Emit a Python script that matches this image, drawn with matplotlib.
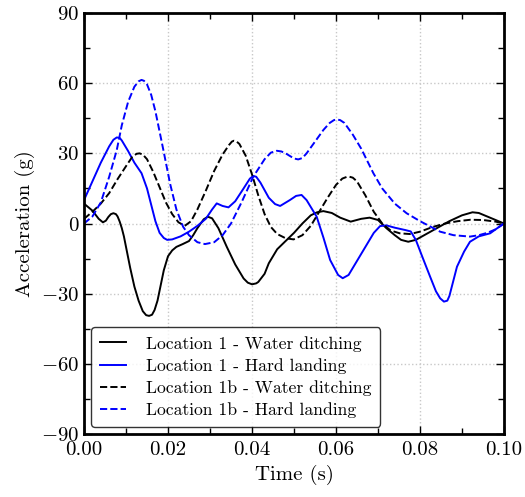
import numpy as np
import matplotlib
matplotlib.use("Agg")
import matplotlib.pyplot as plt
from matplotlib.ticker import MultipleLocator

plt.rcParams['font.family'] = 'serif'
plt.rcParams['font.serif'] = ['cmr10']
plt.rcParams['mathtext.fontset'] = 'cm'
plt.rcParams['axes.formatter.use_mathtext'] = True

# Location 1 - Water ditching
t_l1_water = [0.000, 0.002, 0.0035, 0.0045, 0.0052, 0.0058, 0.0064, 0.007, 0.0076, 0.008,
              0.0085, 0.009, 0.0095, 0.010, 0.011, 0.012, 0.013, 0.014, 0.0148, 0.0155,
              0.0162, 0.0168, 0.0175, 0.019, 0.020, 0.021, 0.022, 0.0235, 0.025, 0.026,
              0.027, 0.0285, 0.0295, 0.0305, 0.032, 0.034, 0.036, 0.038, 0.039, 0.040,
              0.041, 0.0415, 0.043, 0.044, 0.046, 0.048, 0.050, 0.052, 0.054, 0.0555,
              0.057, 0.059, 0.061, 0.0635, 0.066, 0.068, 0.070, 0.072, 0.074, 0.0755,
              0.0772, 0.079, 0.081, 0.084, 0.087, 0.090, 0.0925, 0.094, 0.096, 0.098, 0.100]
g_l1_water = [8.5, 5.5, 2, 0.5, 1.2, 2.8, 4.0, 4.4, 4.0, 3,
              0.8, -2, -5.5, -10, -19, -27, -33, -37.5, -39.2, -39.5,
              -39, -37, -33, -20, -14, -11.5, -10, -8.8, -7.5, -5,
              -2, 1.8, 2.9, 2.2, -2, -10, -17.5, -23.5, -25.3, -26,
              -25.6, -25, -21.5, -17, -11, -7.5, -4, 0, 3.5, 4.8,
              5.3, 4.5, 2.5, 0.8, 2, 2.5, 1.5, -2, -5, -7,
              -7.8, -7, -5, -2, 1, 3.5, 4.8, 4.5, 3, 1.5, 0]

# Location 1 - Hard landing
t_l1_hard = [0.000, 0.002, 0.004, 0.006, 0.007, 0.0078, 0.0085, 0.009, 0.0105, 0.012,
             0.0137, 0.015, 0.016, 0.017, 0.018, 0.019, 0.0198, 0.021, 0.023, 0.025,
             0.027, 0.029, 0.0305, 0.0316, 0.033, 0.0344, 0.036, 0.038, 0.0395, 0.0403,
             0.041, 0.042, 0.044, 0.0455, 0.0467, 0.049, 0.0505, 0.0518, 0.053, 0.0554,
             0.057, 0.0586, 0.0605, 0.0616, 0.063, 0.065, 0.067, 0.069, 0.0705, 0.072,
             0.074, 0.0765, 0.0778, 0.079, 0.0805, 0.0824, 0.0838, 0.0848, 0.0857, 0.0865,
             0.087, 0.0888, 0.0905, 0.0919, 0.094, 0.0967, 0.098, 0.100]
g_l1_hard = [10, 18, 26, 33, 35.8, 36.8, 36.6, 35.5, 31, 26,
             21.5, 15, 8, 1, -4, -6.2, -7, -6.8, -5.5, -3.5,
             -1, 2, 6, 8.6, 7.5, 6.9, 9.5, 15, 19.2, 20.3,
             20.0, 17.5, 11, 8.3, 7.5, 10, 11.8, 12.2, 10, 2.9,
             -6, -15.6, -22, -23.4, -22, -16, -10, -4, -1.1, -0.8,
             -1.8, -2.8, -3.4, -7, -14, -22.7, -29, -32, -33.4, -33,
             -31, -18.5, -12, -7.8, -5.5, -4.2, -2.5, 0]

# Location 1b - Water ditching
t_l1b_water = [0.000, 0.002, 0.004, 0.006, 0.008, 0.010, 0.0115, 0.0125, 0.0132, 0.014,
               0.015, 0.0165, 0.018, 0.0195, 0.021, 0.0225, 0.024, 0.0255, 0.027, 0.029,
               0.031, 0.033, 0.0345, 0.0352, 0.0357, 0.0363, 0.037, 0.0385, 0.040, 0.0415,
               0.043, 0.0445, 0.046, 0.048, 0.0499, 0.052, 0.054, 0.056, 0.058, 0.060,
               0.0615, 0.0625, 0.0632, 0.064, 0.065, 0.067, 0.069, 0.071, 0.073, 0.0752,
               0.0776, 0.080, 0.083, 0.086, 0.089, 0.092, 0.095, 0.098, 0.100]
g_l1b_water = [2, 5, 8.5, 13, 19, 24.5, 28.5, 29.8, 30, 29.5,
               27.5, 22, 15.5, 9, 4, 0.5, -1, 1, 6, 14,
               22.5, 29.5, 33.5, 35, 35.4, 35.1, 34, 29, 21, 12,
               4, -1.5, -4.5, -6.3, -6.8, -5, -1, 5, 11, 16.5,
               19.2, 19.9, 20, 19.6, 18, 12, 5, 0, -3, -4.2,
               -4.5, -3.5, -1.5, 0, 1, 1.6, 1.5, 0.8, 0]

# Location 1b - Hard landing
t_l1b_hard = [0.000, 0.002, 0.004, 0.006, 0.0078, 0.009, 0.0105, 0.012, 0.013, 0.0137,
              0.0143, 0.015, 0.016, 0.017, 0.0189, 0.0205, 0.022, 0.0236, 0.025, 0.027,
              0.0288, 0.031, 0.033, 0.035, 0.0375, 0.0403, 0.043, 0.0445, 0.0459, 0.047,
              0.048, 0.050, 0.051, 0.052, 0.053, 0.055, 0.057, 0.0585, 0.0595, 0.0602,
              0.061, 0.062, 0.064, 0.066, 0.0689, 0.071, 0.074, 0.0768, 0.080, 0.0848,
              0.088, 0.0919, 0.094, 0.096, 0.098, 0.100]
g_l1b_hard = [0, 3, 9, 20, 31.4, 42, 52, 58.5, 60.8, 61.4,
              61.0, 59.5, 55, 48, 31.4, 17, 6, -1.4, -5, -8,
              -8.8, -8, -5, 0, 9, 20, 27.5, 30.3, 31.1, 30.8,
              30, 27.8, 27.4, 28, 30, 35, 40, 43, 44.2, 44.5,
              44.2, 43, 38, 32, 21.5, 15, 8.5, 4.4, 1, -3.5,
              -5, -5.6, -5, -4, -2.5, 0]

fig = plt.figure(figsize=(5.25, 4.97), dpi=100)
ax = fig.add_axes([0.16, 0.1268, 0.80, 0.847])

ax.plot(t_l1_water, g_l1_water, color='black', lw=1.4, label='Location 1 - Water ditching')
ax.plot(t_l1_hard, g_l1_hard, color='blue', lw=1.4, label='Location 1 - Hard landing')
ax.plot(t_l1b_water, g_l1b_water, color='black', lw=1.4, ls='--', label='Location 1b - Water ditching')
ax.plot(t_l1b_hard, g_l1b_hard, color='blue', lw=1.4, ls='--', label='Location 1b - Hard landing')

ax.set_xlim(0, 0.1)
ax.set_ylim(-90, 90)
ax.xaxis.set_major_locator(MultipleLocator(0.02))
ax.xaxis.set_minor_locator(MultipleLocator(0.01))
ax.yaxis.set_major_locator(MultipleLocator(30))
ax.yaxis.set_minor_locator(MultipleLocator(15))
ax.xaxis.set_major_formatter(plt.FuncFormatter(lambda v, p: f"{v:.2f}"))
ax.yaxis.set_major_formatter(plt.FuncFormatter(lambda v, p: f"${int(round(v))}$"))
ax.tick_params(which='both', direction='in', top=True, right=True, labelsize=15)
ax.tick_params(which='major', length=6, width=1)
ax.tick_params(which='minor', length=4, width=1)
ax.tick_params(axis='x', pad=5)
for s in ax.spines.values():
    s.set_linewidth(2)
ax.grid(True, which='major', color='#c8c8c8', linestyle=':', lw=1)

ax.set_xlabel('Time (s)', fontsize=15)
ax.set_ylabel('Acceleration (g)', fontsize=15)
ax.legend(loc='lower left', fontsize=12.7, frameon=True, edgecolor='black',
          handlelength=1.5, handletextpad=1.1, borderpad=0.5, labelspacing=0.36,
          borderaxespad=0.4)

fig.savefig('out.png', dpi=100)
